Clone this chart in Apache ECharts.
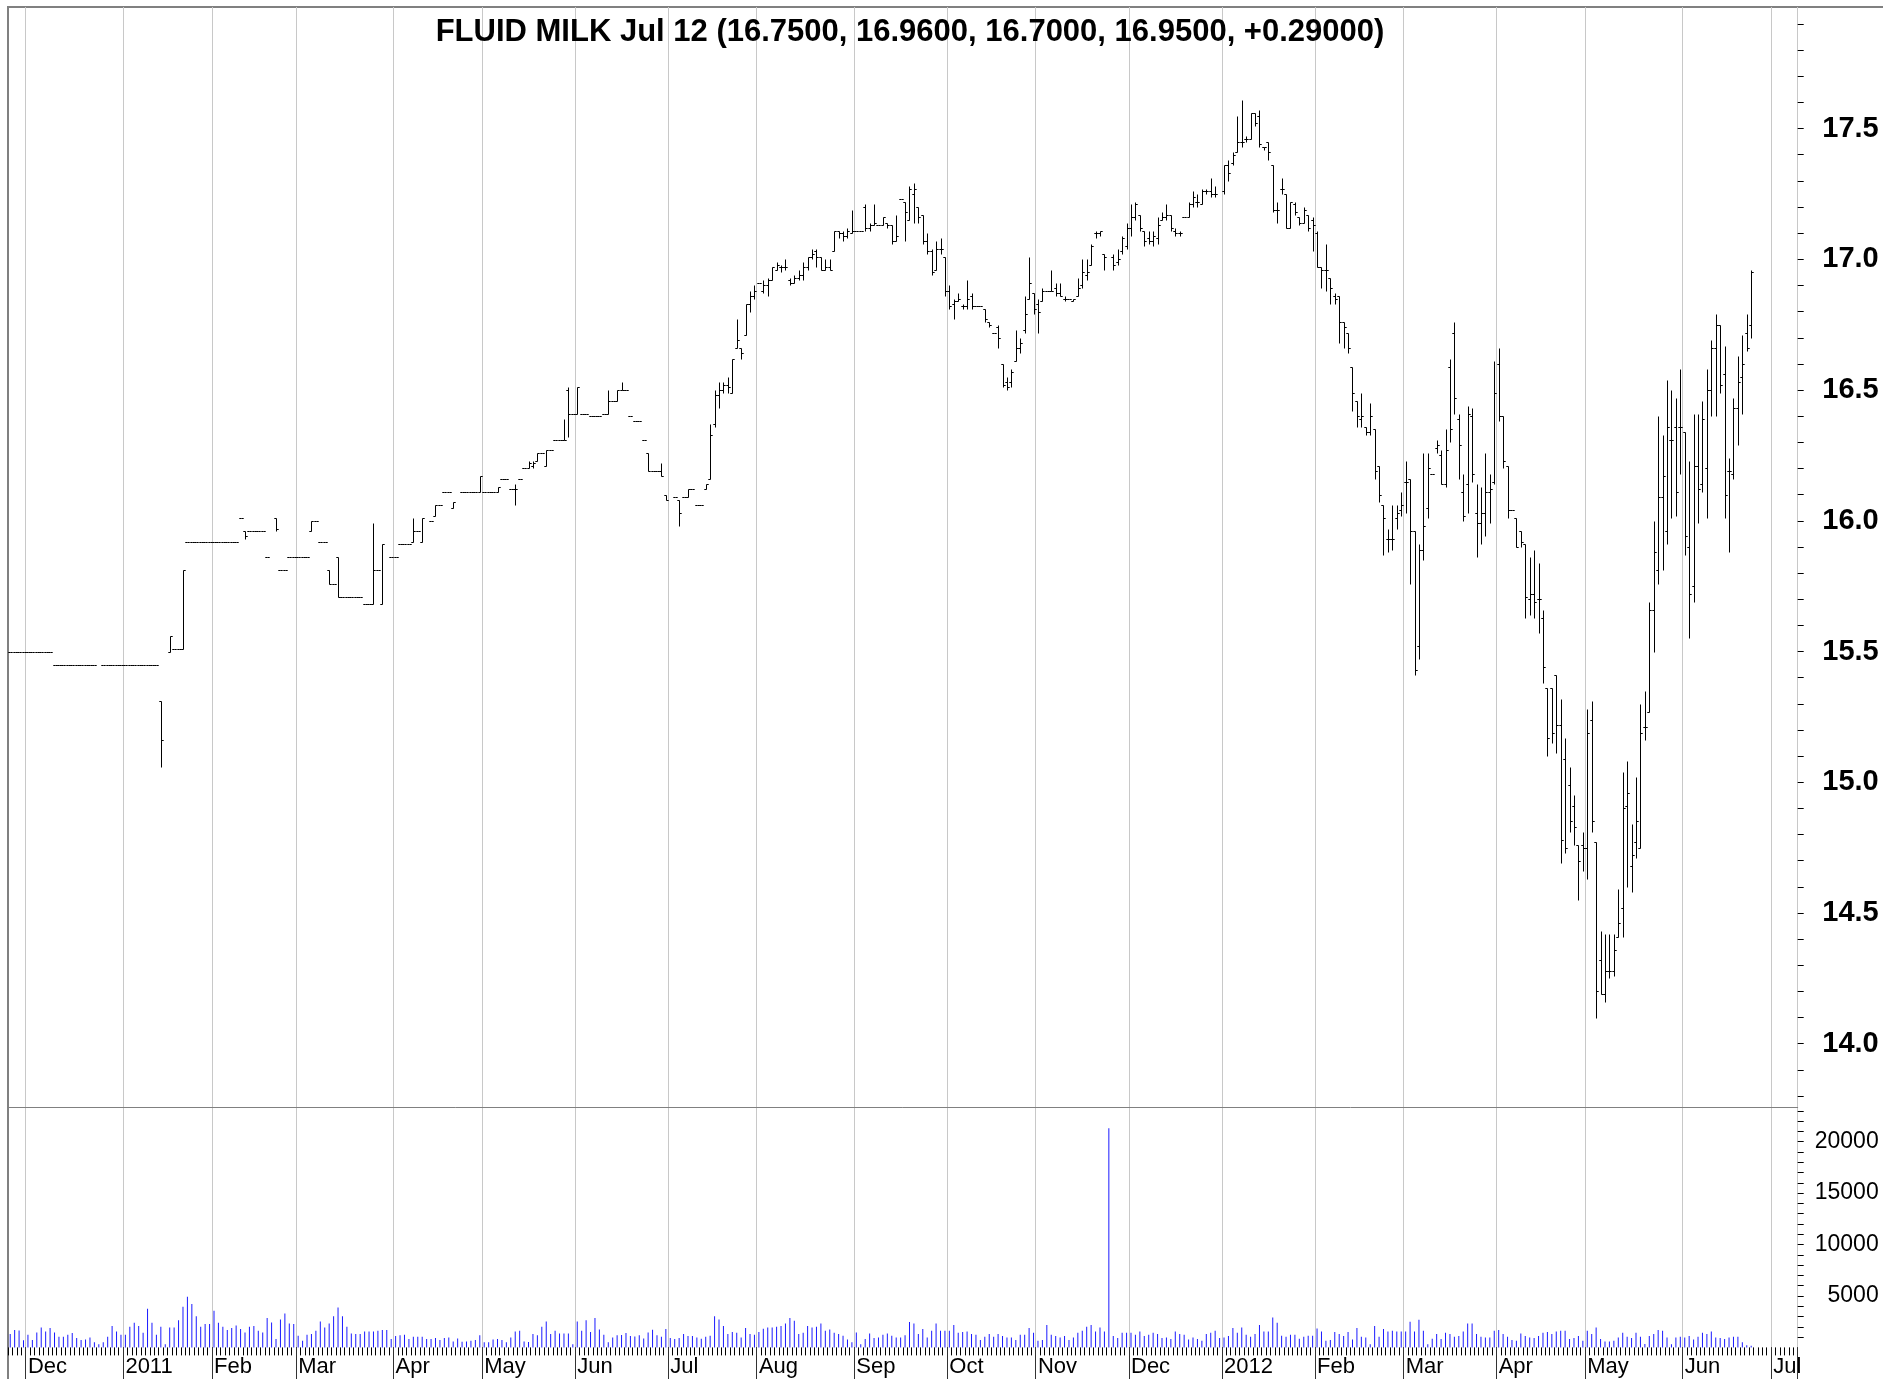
<!DOCTYPE html>
<html>
<head>
<meta charset="utf-8">
<title>FLUID MILK Jul 12</title>
<script src="https://cdn.jsdelivr.net/npm/echarts@6.0.0/dist/echarts.min.js"></script>
<style>
  html, body { margin: 0; padding: 0; background: #fff; }
  #main { width: 1883px; height: 1379px; }
</style>
</head>
<body>
<div id="main"></div>
<script>
// month layout of the trading-day axis
var monthKeys   = ['2010-12','2011-01','2011-02','2011-03','2011-04','2011-05','2011-06','2011-07','2011-08','2011-09','2011-10','2011-11','2011-12','2012-01','2012-02','2012-03','2012-04','2012-05','2012-06','2012-07'];
var monthLabels = ['Dec','2011','Feb','Mar','Apr','May','Jun','Jul','Aug','Sep','Oct','Nov','Dec','2012','Feb','Mar','Apr','May','Jun','Jul'];
var monthDays   = [22,20,19,22,20,21,21,20,22,21,20,21,21,21,20,21,20,22,20,6];
var leadDays = 4; // last days of Nov 2010

// price bars: number = flat day (o=h=l=c), [open, high, low, close], null = no trade
var ohlc = [
  // Nov 2010
  15.5,15.5,15.5,15.5,
  // Dec 2010
  15.5,15.5,15.5,15.5,15.5,15.5,
  15.45,15.45,15.45,15.45,15.45,15.45,15.45,15.45,15.45,15.45,
  null,
  15.45,15.45,15.45,15.45,15.45,
  // Jan 2011
  15.45,15.45,15.45,15.45,15.45,15.45,15.45,15.45,
  [15.31,15.31,15.06,15.16], null, [15.5,15.56,15.5,15.56], 15.51, 15.51, [15.51,15.81,15.51,15.81],
  15.92,15.92,15.92,15.92,15.92,15.92,
  // Feb
  15.92,15.92,15.92,15.92,15.92,15.92, 16.01, [15.96,15.96,15.93,15.94], 15.96,15.96,15.96,15.96,
  15.86, null, [16.01,16.01,15.96,15.97], 15.81, 15.81, 15.86, 15.86,
  // Mar
  15.86,15.86,15.86, [15.96,16.0,15.96,16.0], 16.0, 15.92, 15.92, [15.81,15.81,15.76,15.76], 15.76,
  [15.86,15.86,15.71,15.71], 15.71,15.71,15.71,15.71,15.71, 15.68, 15.68, [15.68,15.99,15.68,15.81], 15.81,
  [15.68,15.91,15.68,15.91], null, 15.86,
  // Apr
  15.86, 15.91,15.91,15.91, [15.92,16.01,15.92,15.96], 15.96, [15.92,16.01,15.92,16.01], null, 16.0,
  [16.02,16.06,16.02,16.06], 16.06, 16.11, 16.11, [16.05,16.07,16.05,16.07], null, 16.11,16.11,16.11,16.11,
  [16.11,16.17,16.11,16.17],
  // May
  16.11,16.11,16.11, [16.11,16.13,16.11,16.13], 16.16, 16.16, 16.12, [16.12,16.14,16.06,16.12], 16.16, 16.2,
  [16.2,16.23,16.2,16.22], [16.21,16.23,16.2,16.22], [16.23,16.26,16.23,16.26], 16.26, [16.21,16.27,16.21,16.27],
  16.27, 16.31, 16.31, [16.31,16.39,16.31,16.31], [16.5,16.51,16.32,16.41], 16.41,
  // Jun
  [16.41,16.51,16.41,16.51], 16.41, 16.41, 16.4, 16.4, 16.4, 16.41, [16.41,16.5,16.41,16.46], 16.46,
  [16.46,16.5,16.46,16.5], [16.5,16.53,16.5,16.5], 16.5, 16.4, 16.38, 16.38, 16.31, [16.26,16.26,16.19,16.19],
  16.19, 16.19, [16.19,16.22,16.17,16.17], [16.1,16.1,16.08,16.08],
  // Jul
  null, 16.09, [16.08,16.08,15.98,16.03], 16.09, [16.09,16.12,16.09,16.12], 16.12, 16.06, 16.06,
  [16.12,16.14,16.12,16.14], [16.16,16.37,16.16,16.33], [16.37,16.5,16.36,16.48], [16.48,16.53,16.43,16.5],
  [16.5,16.53,16.49,16.52], [16.52,16.55,16.49,16.51], [16.49,16.62,16.49,16.62], [16.66,16.77,16.66,16.69],
  [16.66,16.66,16.62,16.64], [16.71,16.83,16.71,16.83], [16.83,16.88,16.8,16.86], [16.86,16.9,16.85,16.88],
  // Aug
  16.91, [16.88,16.92,16.87,16.9], [16.9,16.93,16.86,16.92], [16.92,16.97,16.92,16.97], [16.96,16.99,16.96,16.98],
  [16.97,16.98,16.95,16.97], [16.97,17.0,16.96,16.97], [16.92,16.93,16.9,16.91], [16.91,16.94,16.91,16.93],
  [16.93,16.96,16.92,16.94], [16.94,16.99,16.92,16.97], [16.97,17.01,16.96,17.01], [17.01,17.04,17.0,17.02],
  [17.03,17.04,16.97,17.01], [17.01,17.01,16.96,16.96], [16.96,17.0,16.96,16.97], [16.97,17.0,16.96,16.96],
  [17.03,17.11,17.03,17.11], [17.11,17.11,17.08,17.1], [17.1,17.11,17.07,17.09], [17.09,17.12,17.08,17.11],
  [17.1,17.19,17.1,17.11],
  // Sep
  17.11, 17.11, [17.2,17.21,17.11,17.12], [17.12,17.14,17.11,17.13], [17.13,17.21,17.13,17.14], 17.13,
  [17.13,17.16,17.13,17.16], [17.14,17.14,17.12,17.13], [17.13,17.13,17.06,17.07], [17.07,17.17,17.07,17.09],
  17.23, [17.22,17.22,17.07,17.18], [17.15,17.28,17.15,17.27], [17.25,17.29,17.14,17.27], [17.2,17.2,17.14,17.16],
  [17.17,17.17,17.06,17.07], [17.07,17.1,17.02,17.03], [17.03,17.04,16.94,16.95], [16.96,17.07,16.96,17.04],
  [17.04,17.08,17.02,17.04], [17.01,17.01,16.86,16.88],
  // Oct
  [16.88,16.9,16.81,16.82], [16.83,16.85,16.77,16.84], [16.84,16.87,16.84,16.85], [16.82,16.83,16.81,16.82],
  [16.82,16.92,16.81,16.85], [16.86,16.87,16.81,16.82], 16.82, 16.82, [16.81,16.81,16.76,16.77],
  [16.76,16.76,16.74,16.75], 16.72, [16.74,16.75,16.66,16.7], [16.6,16.6,16.51,16.52], [16.53,16.55,16.5,16.51],
  [16.53,16.58,16.51,16.57], [16.61,16.73,16.61,16.66], [16.66,16.7,16.64,16.68], [16.73,16.86,16.72,16.79],
  [16.85,17.01,16.85,16.91], [16.87,16.87,16.79,16.81],
  // Nov
  [16.83,16.85,16.72,16.8], [16.84,16.89,16.84,16.88], 16.88, [16.88,16.96,16.88,16.88], [16.89,16.91,16.86,16.87],
  [16.87,16.91,16.86,16.86], [16.85,16.86,16.84,16.85], 16.85, [16.84,16.85,16.84,16.85], [16.86,16.93,16.86,16.89],
  [16.9,17.0,16.89,16.95], [16.94,17.0,16.92,16.95], [16.98,17.06,16.98,17.05], [17.1,17.11,17.08,17.1],
  [17.1,17.11,17.09,17.11], [17.02,17.02,16.96,17.01], null, [17.01,17.02,16.96,16.98], [16.99,17.04,16.98,17.0],
  [17.03,17.09,17.02,17.08], [17.05,17.14,17.04,17.12],
  // Dec
  [17.12,17.21,17.09,17.16], [17.16,17.22,17.15,17.21], [17.17,17.17,17.11,17.12], [17.11,17.11,17.05,17.07],
  [17.08,17.11,17.06,17.07], [17.07,17.11,17.05,17.09], [17.08,17.16,17.06,17.13], [17.15,17.18,17.15,17.16],
  [17.16,17.21,17.15,17.17], [17.17,17.17,17.11,17.12], [17.11,17.12,17.09,17.1], [17.1,17.11,17.09,17.1],
  17.16, [17.16,17.22,17.16,17.21], [17.21,17.26,17.2,17.24], [17.22,17.25,17.2,17.22], [17.21,17.27,17.21,17.26],
  [17.26,17.27,17.25,17.26], [17.26,17.31,17.24,17.25], [17.25,17.28,17.24,17.25], null,
  // Jan 2012
  [17.26,17.36,17.25,17.36], [17.36,17.38,17.3,17.33], [17.37,17.41,17.36,17.4], [17.41,17.55,17.41,17.45],
  [17.45,17.61,17.43,17.45], [17.46,17.47,17.45,17.46], [17.46,17.56,17.46,17.56], [17.56,17.56,17.51,17.52],
  [17.55,17.57,17.43,17.44], [17.43,17.43,17.42,17.43], [17.45,17.45,17.38,17.41], [17.36,17.36,17.18,17.19],
  [17.19,17.22,17.14,17.19], [17.27,17.31,17.25,17.27], [17.25,17.25,17.12,17.12], [17.12,17.22,17.12,17.22],
  [17.21,17.22,17.17,17.18], [17.16,17.16,17.13,17.14], [17.14,17.2,17.14,17.19], [17.17,17.17,17.11,17.12],
  [17.15,17.16,17.03,17.13],
  // Feb
  [17.1,17.11,16.97,16.97], [16.97,16.97,16.89,16.96], [16.96,17.06,16.88,16.96], [16.93,16.93,16.83,16.89],
  [16.86,16.87,16.83,16.85], [16.86,16.86,16.68,16.76], [16.76,16.76,16.66,16.74], [16.72,16.72,16.64,16.66],
  [16.59,16.59,16.42,16.49], [16.46,16.46,16.36,16.4], [16.39,16.49,16.36,16.4], [16.36,16.36,16.33,16.34],
  [16.34,16.45,16.33,16.4], [16.35,16.35,16.16,16.19], [16.21,16.21,16.07,16.1], [16.06,16.06,15.87,16.01],
  [15.93,15.97,15.88,15.93], [15.93,16.06,15.89,15.93], [16.01,16.06,15.97,16.03], [16.04,16.11,16.02,16.06],
  // Mar
  [16.15,16.23,16.03,16.15], [16.16,16.16,15.76,15.96], [15.96,15.96,15.41,15.43], [15.52,15.91,15.47,15.89],
  [15.89,16.26,15.85,15.98], [16.05,16.26,16.01,16.2], 16.18, [16.28,16.31,16.26,16.29], [16.25,16.27,16.14,16.14],
  [16.14,16.35,16.13,16.27], [16.59,16.62,16.3,16.35], [16.72,16.76,16.41,16.47], [16.39,16.41,16.16,16.29],
  [16.11,16.18,16.0,16.02], [16.14,16.44,16.03,16.41], [16.4,16.43,16.15,16.18], [16.03,16.14,15.86,15.99],
  [15.99,16.13,15.91,16.03], [16.03,16.26,15.94,16.11], [16.11,16.18,15.99,16.12], [16.15,16.61,16.14,16.49],
  // Apr
  [16.6,16.66,16.38,16.4], [16.4,16.4,16.2,16.23], [16.21,16.21,16.01,16.04], 16.04, [16.01,16.01,15.9,15.9],
  [15.96,15.96,15.9,15.92], [15.91,15.91,15.63,15.71], [15.7,15.86,15.64,15.72], [15.72,15.89,15.63,15.69],
  [15.7,15.84,15.57,15.7], [15.63,15.66,15.38,15.44], [15.36,15.36,15.1,15.17], [15.36,15.36,15.15,15.19],
  [15.41,15.41,15.11,15.22], [15.22,15.32,14.69,14.78], [15.09,15.17,14.73,14.75], [14.99,15.06,14.81,14.85],
  [14.91,14.95,14.76,14.83], [14.76,14.76,14.55,14.7], [14.76,14.81,14.66,14.75],
  // May
  [14.75,15.28,14.63,15.19], [15.24,15.31,14.81,14.85], [14.77,14.77,14.1,14.2], [14.32,14.43,14.19,14.19],
  [14.19,14.42,14.16,14.28], [14.28,14.42,14.25,14.28], [14.28,14.42,14.26,14.36], [14.41,14.59,14.41,14.46],
  [14.52,15.04,14.41,14.9], [14.91,15.08,14.6,14.96], [14.68,14.84,14.58,14.72], [14.77,15.02,14.71,14.85],
  [14.75,15.3,14.75,15.19], [15.21,15.35,15.16,15.21], [15.27,15.69,15.27,15.66], [15.66,16.0,15.5,15.88],
  [15.81,16.4,15.76,16.09], [16.09,16.33,15.81,16.17], [15.96,16.54,15.91,16.36], [16.31,16.5,16.01,16.31],
  [16.36,16.47,16.02,16.11], [16.36,16.58,16.18,16.36],
  // Jun
  [16.34,16.34,15.87,15.94], [15.9,16.23,15.55,15.72], [15.75,16.41,15.69,16.21], [16.21,16.41,15.99,16.12],
  [16.14,16.46,16.11,16.39], [16.2,16.58,16.01,16.5], [16.5,16.69,16.4,16.66], [16.66,16.79,16.4,16.75],
  [16.75,16.75,16.49,16.52], [16.56,16.67,16.01,16.1], [16.19,16.24,15.88,16.19], [16.18,16.47,16.16,16.43],
  [16.43,16.63,16.29,16.53], [16.55,16.71,16.41,16.6], [16.72,16.79,16.65,16.66], [16.75,16.96,16.7,16.95]
];

var volumes = [
  1300,1700,1650,700,
  1230,710,1460,1940,1550,1880,1460,1040,1040,1230,1390,910,710,780,970,490,300,490,1040,2070,1550,1230,
  1230,2010,2400,2070,1420,3750,2400,1230,2010,300,1940,1940,2650,3950,4920,4210,3040,2010,2270,2270,
  3560,2400,2010,1680,1880,2140,1780,1460,2010,2070,1620,1460,2850,2430,810,2720,3300,2330,2270,
  1130,650,1230,1300,1620,2520,1940,2330,3040,3880,3040,2010,1360,1300,1300,1550,1550,1550,1620,1680,1680,810,
  1100,1170,1230,810,1040,1040,1040,810,810,910,710,910,970,580,870,550,580,650,710,1170,
  490,490,780,810,710,490,970,1550,1620,580,520,1300,1170,2010,2520,1300,1620,1360,1360,1360,300,
  2520,1620,2650,1490,2850,1750,1230,490,970,1170,1200,1390,1100,1070,1170,870,1460,1720,1170,1040,1780,
  910,810,910,1300,1100,1100,970,840,1040,1130,3040,2720,2070,1300,1490,1420,970,1880,1300,1230,
  1490,1810,1940,1940,2010,2070,2330,2850,2590,1300,1420,2070,1940,2010,2330,1620,1750,1420,1300,1130,780,490,
  1460,300,810,1360,910,970,1230,1360,1130,970,970,1170,2460,2330,1300,1780,970,1620,2330,1620,1620,
  1620,2170,1420,1490,1550,1300,1230,710,1040,1300,1040,1300,1100,970,970,710,1230,1230,1880,1420,
  650,710,2170,1230,1100,970,1100,710,970,1420,1620,2010,2170,1550,1940,1550,21300,1100,910,1420,1420,
  1420,1230,1550,1100,1230,1420,1300,910,970,810,1550,1300,1230,780,970,810,650,1300,1420,1620,910,
  970,1100,1880,1420,1940,1230,1040,1300,2170,1550,1550,2910,2400,1130,1040,1230,1230,840,1040,1130,1130,
  1840,1550,650,710,1490,1300,1100,1490,780,1880,1040,970,300,2070,1040,1780,1550,1620,1550,1550,
  1550,2490,1550,2690,1620,300,840,1300,810,1420,1300,1040,1100,1550,2330,2330,1300,1040,970,970,1620,
  1680,1300,1040,710,650,1360,1100,970,910,1100,1420,1490,1300,1550,1620,1620,810,910,1100,650,
  1620,1300,1940,810,580,580,650,970,1420,1040,910,1420,1040,320,1100,1300,1680,1620,970,300,970,1040,
  970,1100,780,1040,1420,1300,1550,970,910,810,970,1040,1040,490,200,150
];

var priceTicks = [13.8,13.9,14.0,14.1,14.2,14.3,14.4,14.5,14.6,14.7,14.8,14.9,15.0,15.1,15.2,15.3,15.4,15.5,15.6,15.7,15.8,15.9,
                  16.0,16.1,16.2,16.3,16.4,16.5,16.6,16.7,16.8,16.9,17.0,17.1,17.2,17.3,17.4,17.5,17.6,17.7,17.8,17.9];
var priceLabels = [14.0,14.5,15.0,15.5,16.0,16.5,17.0,17.5];
var volTicks = [1000,2000,3000,4000,5000,6000,7000,8000,9000,10000,11000,12000,13000,14000,15000,16000,17000,18000,19000,20000,21000,22000,23000];
var volLabels = [5000,10000,15000,20000];

// categories: one per trading-day slot
var days = [];
var monthStartLabel = {};
for (var k = 0; k < leadDays; k++) days.push('2010-11-' + (k + 1));
for (var j = 0; j < monthKeys.length; j++) {
  monthStartLabel[days.length] = monthLabels[j];
  for (var d = 0; d < monthDays[j]; d++) days.push(monthKeys[j] + '-' + (d + 1));
}
function isMonthStart(index) { return monthStartLabel[index] !== undefined; }

var barData = [];
ohlc.forEach(function (v, i) {
  if (v === null) return;
  if (typeof v === 'number') barData.push([i, v, v, v, v]);
  else barData.push([i, v[0], v[1], v[2], v[3]]);
});

function renderBar(params, api) {
  var i = api.value(0);
  var pO = api.coord([i, api.value(1)]);
  var pH = api.coord([i, api.value(2)]);
  var pL = api.coord([i, api.value(3)]);
  var pC = api.coord([i, api.value(4)]);
  var half = api.size([1, 0])[0] / 2;
  var x = Math.round(pH[0]) + 0.5;
  var sy = function (y) { return Math.round(y) + 0.5; };
  var st = { stroke: '#000', lineWidth: 1 };
  return {
    type: 'group',
    children: [
      { type: 'line', shape: { x1: x, y1: sy(pH[1]), x2: x, y2: sy(pL[1]) }, style: st },
      { type: 'line', shape: { x1: x - half, y1: sy(pO[1]), x2: x, y2: sy(pO[1]) }, style: st },
      { type: 'line', shape: { x1: x, y1: sy(pC[1]), x2: x + half, y2: sy(pC[1]) }, style: st }
    ]
  };
}

var gridLine = { show: true, interval: function (i) { return isMonthStart(i); }, lineStyle: { color: '#c8c8c8', width: 1 } };
var font = 'Liberation Sans';

var chart = echarts.init(document.getElementById('main'));
chart.setOption({
  animation: false,
  backgroundColor: '#fff',
  title: {
    text: 'FLUID MILK Jul 12 (16.7500, 16.9600, 16.7000, 16.9500, +0.29000)',
    left: 905, top: 12, textAlign: 'center',
    textStyle: { fontFamily: font, fontSize: 31, fontWeight: 'bold', color: '#000' }
  },
  graphic: [
    { type: 'line', shape: { x1: 7, y1: 7, x2: 1883, y2: 7 }, style: { stroke: '#808080', lineWidth: 2 } },
    { type: 'line', shape: { x1: 8, y1: 7, x2: 8, y2: 1379 }, style: { stroke: '#808080', lineWidth: 2 } }
  ],
  grid: [
    { left: 8, right: 85.3, top: 7, height: 1100 },
    { left: 8, right: 85.3, top: 1107, height: 240.4 }
  ],
  xAxis: [
    { type: 'category', gridIndex: 0, data: days, boundaryGap: true,
      axisLine: { show: true, lineStyle: { color: '#808080', width: 1 } },
      axisTick: { show: false }, axisLabel: { show: false }, splitLine: gridLine },
    { type: 'category', gridIndex: 1, data: days, boundaryGap: true,
      axisLine: { show: false },
      axisTick: { show: true, interval: 0, length: 8, lineStyle: { color: '#000', width: 1 } },
      axisLabel: { show: true, interval: function (i) { return isMonthStart(i); },
        formatter: function (v, i) { return monthStartLabel[i] || ''; },
        align: 'left', margin: 9, fontFamily: font, fontSize: 22, color: '#000' },
      splitLine: gridLine },
    { type: 'category', gridIndex: 1, data: days, boundaryGap: true, position: 'bottom',
      axisLine: { show: false },
      axisTick: { show: true, interval: function (i) { return isMonthStart(i); }, length: 32, lineStyle: { color: '#333', width: 1 } },
      axisLabel: { show: false }, splitLine: { show: false } }
  ],
  yAxis: [
    { type: 'value', gridIndex: 0, position: 'right', min: 13.758, max: 17.965, scale: true,
      axisLine: { show: false },
      axisTick: { show: true, length: 6, customValues: priceTicks, lineStyle: { color: '#000' } },
      axisLabel: { show: true, customValues: priceLabels, formatter: function (v) { return v.toFixed(1); },
        align: 'right', margin: 81, fontFamily: font, fontSize: 29, fontWeight: 'bold', color: '#000' },
      splitLine: { show: false } },
    { type: 'value', gridIndex: 1, position: 'right', min: 0, max: 23370,
      axisLine: { show: false },
      axisTick: { show: true, length: 6, customValues: volTicks, lineStyle: { color: '#000' } },
      axisLabel: { show: true, customValues: volLabels, formatter: function (v) { return String(v); },
        align: 'right', margin: 81, fontFamily: font, fontSize: 23, color: '#000' },
      splitLine: { show: false } }
  ],
  series: [
    { type: 'custom', name: 'price', xAxisIndex: 0, yAxisIndex: 0, data: barData,
      renderItem: renderBar, encode: { x: 0, y: [1, 2, 3, 4] } },
    { type: 'bar', name: 'volume', xAxisIndex: 1, yAxisIndex: 1, data: volumes,
      barWidth: 1, itemStyle: { color: '#1a1aff' } }
  ]
});
</script>
</body>
</html>
